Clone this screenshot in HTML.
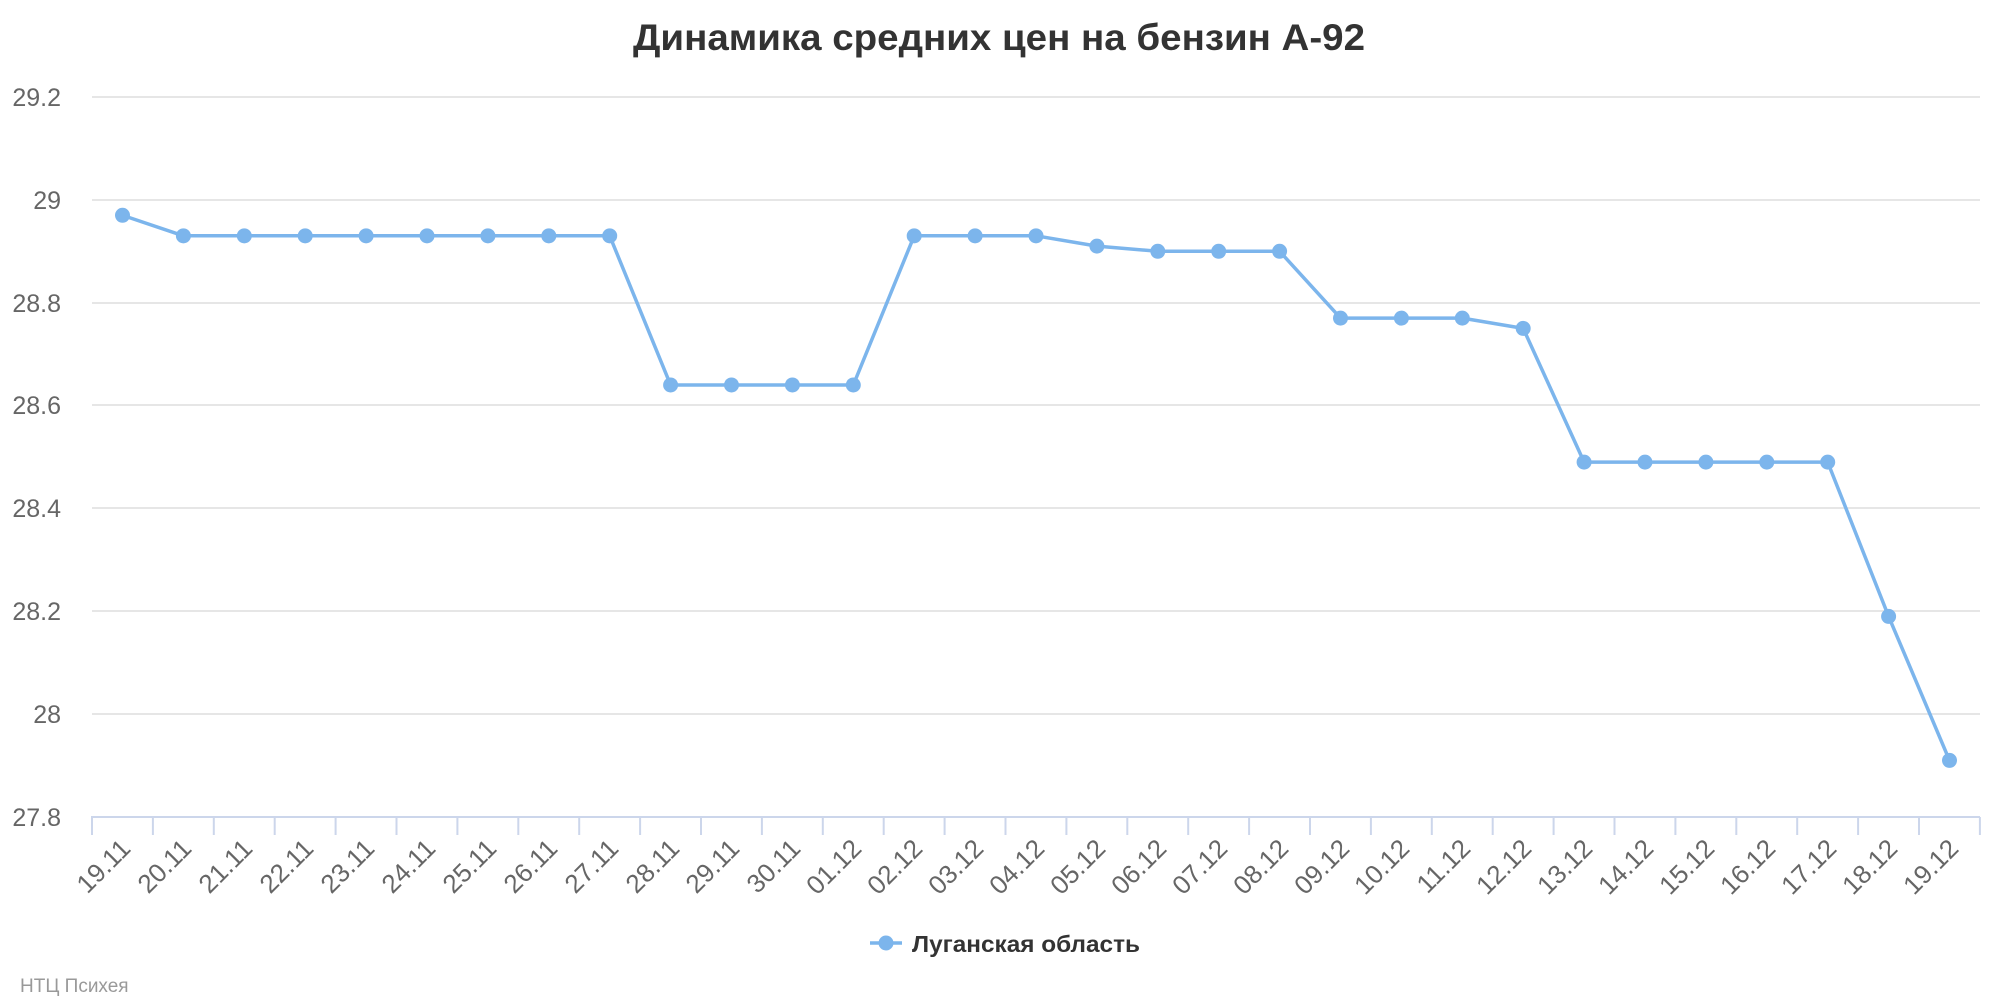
<!DOCTYPE html>
<html><head><meta charset="utf-8"><style>
html,body{margin:0;padding:0;background:#fff;}
svg{display:block;font-family:"Liberation Sans","DejaVu Sans",sans-serif;}
</style></head><body>
<svg width="2000" height="1000" viewBox="0 0 2000 1000" xmlns="http://www.w3.org/2000/svg">
<text x="999" y="50" text-anchor="middle" font-size="37" font-weight="bold" fill="#333" textLength="732" lengthAdjust="spacingAndGlyphs">Динамика средних цен на бензин А-92</text>
<g stroke="#e6e6e6" stroke-width="2">
<line x1="92" x2="1980" y1="97" y2="97"/><line x1="92" x2="1980" y1="200" y2="200"/><line x1="92" x2="1980" y1="303" y2="303"/><line x1="92" x2="1980" y1="405" y2="405"/><line x1="92" x2="1980" y1="508" y2="508"/><line x1="92" x2="1980" y1="611" y2="611"/><line x1="92" x2="1980" y1="714" y2="714"/>
</g>
<g font-size="25" fill="#666" text-anchor="end">
<text x="61" y="106">29.2</text><text x="61" y="209">29</text><text x="61" y="312">28.8</text><text x="61" y="414">28.6</text><text x="61" y="517">28.4</text><text x="61" y="620">28.2</text><text x="61" y="723">28</text><text x="61" y="826">27.8</text>
</g>
<line x1="91" x2="1980" y1="817" y2="817" stroke="#ccd6eb" stroke-width="2"/>
<g id="ticks" stroke="#ccd6eb" stroke-width="2"></g>
<g font-size="26" fill="#666" text-anchor="end">
<text x="132" y="850" transform="rotate(-45 132 850)">19.11</text>
<text x="193" y="850" transform="rotate(-45 193 850)">20.11</text>
<text x="254" y="850" transform="rotate(-45 254 850)">21.11</text>
<text x="315" y="850" transform="rotate(-45 315 850)">22.11</text>
<text x="376" y="850" transform="rotate(-45 376 850)">23.11</text>
<text x="437" y="850" transform="rotate(-45 437 850)">24.11</text>
<text x="498" y="850" transform="rotate(-45 498 850)">25.11</text>
<text x="559" y="850" transform="rotate(-45 559 850)">26.11</text>
<text x="620" y="850" transform="rotate(-45 620 850)">27.11</text>
<text x="681" y="850" transform="rotate(-45 681 850)">28.11</text>
<text x="741" y="850" transform="rotate(-45 741 850)">29.11</text>
<text x="802" y="850" transform="rotate(-45 802 850)">30.11</text>
<text x="863" y="850" transform="rotate(-45 863 850)">01.12</text>
<text x="924" y="850" transform="rotate(-45 924 850)">02.12</text>
<text x="985" y="850" transform="rotate(-45 985 850)">03.12</text>
<text x="1046" y="850" transform="rotate(-45 1046 850)">04.12</text>
<text x="1107" y="850" transform="rotate(-45 1107 850)">05.12</text>
<text x="1168" y="850" transform="rotate(-45 1168 850)">06.12</text>
<text x="1229" y="850" transform="rotate(-45 1229 850)">07.12</text>
<text x="1290" y="850" transform="rotate(-45 1290 850)">08.12</text>
<text x="1351" y="850" transform="rotate(-45 1351 850)">09.12</text>
<text x="1411" y="850" transform="rotate(-45 1411 850)">10.12</text>
<text x="1472" y="850" transform="rotate(-45 1472 850)">11.12</text>
<text x="1533" y="850" transform="rotate(-45 1533 850)">12.12</text>
<text x="1594" y="850" transform="rotate(-45 1594 850)">13.12</text>
<text x="1655" y="850" transform="rotate(-45 1655 850)">14.12</text>
<text x="1716" y="850" transform="rotate(-45 1716 850)">15.12</text>
<text x="1777" y="850" transform="rotate(-45 1777 850)">16.12</text>
<text x="1838" y="850" transform="rotate(-45 1838 850)">17.12</text>
<text x="1899" y="850" transform="rotate(-45 1899 850)">18.12</text>
<text x="1960" y="850" transform="rotate(-45 1960 850)">19.12</text>
</g>
<polyline id="ln" fill="none" stroke="#7cb5ec" stroke-width="3.5" stroke-linejoin="round"/>
<g id="pts" fill="#7cb5ec"></g>
<line x1="870" x2="902" y1="943" y2="943" stroke="#7cb5ec" stroke-width="3.5"/>
<circle cx="886" cy="943" r="7.5" fill="#7cb5ec"/>
<text x="912" y="952" font-size="23" font-weight="bold" fill="#333" textLength="228" lengthAdjust="spacingAndGlyphs">Луганская область</text>
<text x="20" y="992" font-size="19" fill="#999">НТЦ Психея</text>
<script>
var v=[28.97,28.93,28.93,28.93,28.93,28.93,28.93,28.93,28.93,28.64,28.64,28.64,28.64,28.93,28.93,28.93,28.91,28.90,28.90,28.90,28.77,28.77,28.77,28.75,28.49,28.49,28.49,28.49,28.49,28.19,27.91];
var ns="http://www.w3.org/2000/svg",p=[],g=document.getElementById('pts'),t=document.getElementById('ticks');
for(var i=0;i<31;i++){var x=122.5+60.9*i,y=817-(v[i]-27.8)/0.2*102.86;p.push(x.toFixed(1)+","+y.toFixed(1));
var c=document.createElementNS(ns,'circle');c.setAttribute('cx',x);c.setAttribute('cy',y);c.setAttribute('r',7.5);g.appendChild(c);}
for(var i=0;i<=31;i++){var x=92+60.9*i,l=document.createElementNS(ns,'line');l.setAttribute('x1',x);l.setAttribute('x2',x);l.setAttribute('y1',817);l.setAttribute('y2',835);t.appendChild(l);}
document.getElementById('ln').setAttribute('points',p.join(' '));
</script>
</svg>
</body></html>
